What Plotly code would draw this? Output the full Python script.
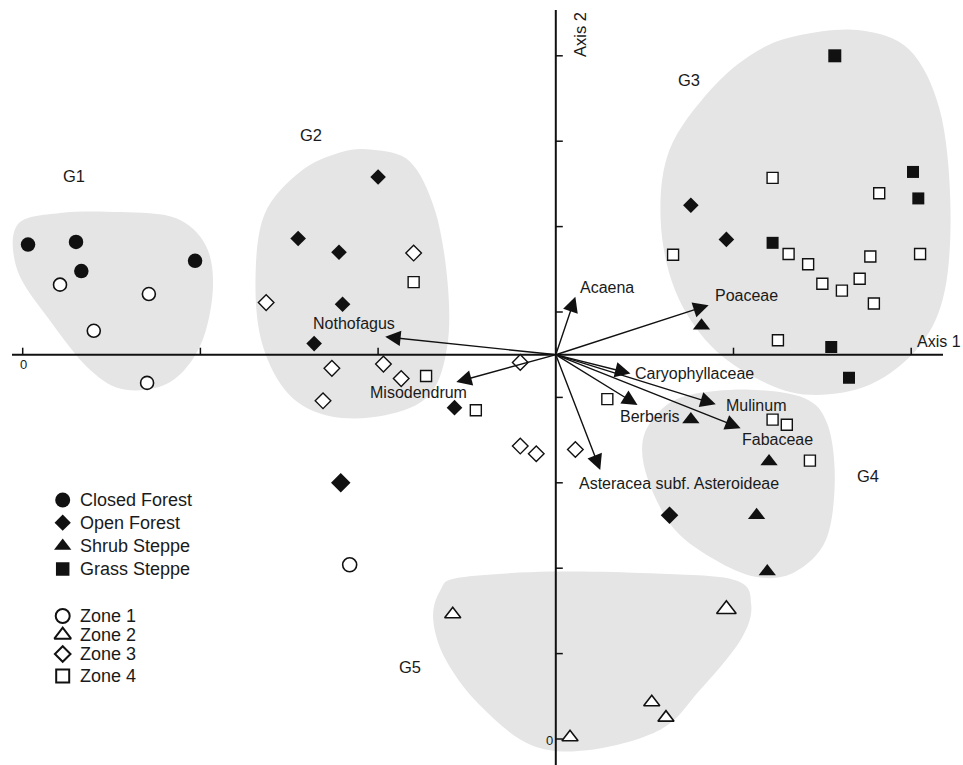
import plotly.graph_objects as go

# ---------------- data (ordination scores, axis units) ----------------
closed_forest_x = [0.03, 0.30, 0.33, 0.97]
closed_forest_y = [5.79, 5.82, 5.48, 5.60]

open_forest_x = [2.00, 1.55, 1.78, 1.80, 1.64, 2.43, 1.79, 3.76, 3.96, 3.64]
open_forest_y = [6.58, 5.86, 5.70, 5.09, 4.63, 3.88, 3.00, 6.25, 5.85, 2.62]

shrub_steppe_x = [3.82, 3.76, 4.20, 4.13, 4.19]
shrub_steppe_y = [4.84, 3.74, 3.25, 2.62, 1.96]

grass_steppe_x = [4.57, 5.01, 5.04, 4.22, 4.55, 4.65]
grass_steppe_y = [8.00, 6.64, 6.33, 5.81, 4.59, 4.23]

zone1_x = [0.21, 0.71, 0.40, 0.70, 1.84]
zone1_y = [5.32, 5.21, 4.78, 4.17, 2.04]

zone2_x = [2.42, 3.96, 3.54, 3.62, 3.08]
zone2_y = [1.46, 1.52, 0.43, 0.25, 0.02]

zone3_x = [2.20, 1.37, 2.03, 1.74, 2.13, 1.69, 2.80, 2.80, 2.89, 3.11]
zone3_y = [5.69, 5.11, 4.39, 4.34, 4.22, 3.96, 4.41, 3.43, 3.34, 3.39]

zone4_x = [2.20, 2.27, 2.55, 3.29, 4.22, 4.30, 4.43, 4.22, 4.82, 3.66,
           4.31, 4.42, 4.77, 5.05, 4.50, 4.61, 4.71, 4.79, 4.25]
zone4_y = [5.35, 4.25, 3.85, 3.98, 3.74, 3.68, 3.26, 6.57, 6.39, 5.67,
           5.68, 5.56, 5.65, 5.68, 5.33, 5.25, 5.39, 5.10, 4.67]

# taxon vectors (arrow tips), origin at the axes crossing
origin = (3.0, 4.5)
var_names = ["Acaena", "Poaceae", "Nothofagus", "Misodendrum", "Caryophyllaceae",
             "Berberis", "Mulinum", "Fabaceae", "Asteracea subf. Asteroideae"]
var_x = [3.11, 3.86, 2.04, 2.44, 3.42, 3.46, 3.90, 4.04, 3.25]
var_y = [5.18, 5.08, 4.71, 4.18, 4.28, 3.91, 3.92, 3.64, 3.15]

# group outlines (axis units)
groups = {
    "G1": [(-0.03, 6.02), (0.21, 6.16), (0.55, 6.17), (0.86, 6.10), (1.03, 5.78), (1.07, 5.26),
           (1.00, 4.61), (0.83, 4.18), (0.58, 4.09), (0.38, 4.32), (0.15, 4.91), (-0.03, 5.49)],
    "G2": [(1.97, 6.90), (2.18, 6.76), (2.32, 6.19), (2.39, 5.37), (2.39, 4.61), (2.29, 4.03),
           (2.04, 3.79), (1.73, 3.78), (1.50, 4.03), (1.35, 4.61), (1.31, 5.37), (1.36, 6.14),
           (1.56, 6.64), (1.79, 6.87)],
    "G3": [(4.37, 8.24), (4.71, 8.30), (4.99, 8.07), (5.16, 7.37), (5.22, 6.31), (5.19, 5.26),
           (5.05, 4.61), (4.77, 4.15), (4.43, 4.03), (4.15, 4.20), (3.87, 4.61), (3.67, 5.26),
           (3.59, 6.08), (3.64, 6.90), (3.87, 7.60), (4.12, 8.04)],
    "G4": [(3.76, 4.03), (4.09, 4.09), (4.40, 3.99), (4.53, 3.68), (4.57, 3.03), (4.52, 2.33),
           (4.35, 1.96), (4.15, 1.89), (3.92, 2.07), (3.67, 2.45), (3.52, 3.03), (3.49, 3.50),
           (3.59, 3.85)],
    "G5": [(2.46, 1.89), (2.97, 1.96), (3.53, 1.94), (4.01, 1.86), (4.10, 1.57), (4.04, 1.16),
           (3.81, 0.57), (3.59, 0.11), (3.19, -0.13), (2.86, -0.07), (2.57, 0.40), (2.38, 0.93),
           (2.31, 1.40), (2.35, 1.74)],
}

x_ticks = [0, 1, 2, 3, 4, 5]
y_ticks = [0, 1, 2, 3, 4, 5, 6, 7, 8]

# ---------------- layout helpers ----------------
W, H = 963, 765
X0PX, XUNIT = 22.7, 177.7
Y0PX, YUNIT = 739.0, 85.4


def dx(p):
    return (p - X0PX) / XUNIT


def dy(p):
    return (Y0PX - p) / YUNIT


XR = [dx(0), dx(W)]
YR = [dy(H), dy(0)]

FONT = "Liberation Sans, Arial, sans-serif"
BLACK = "#111111"
TXT = "#1a1a1a"
HULL = "#e5e5e5"


def smooth_path(pts):
    n = len(pts)
    s = f"M {pts[0][0]},{pts[0][1]}"
    for i in range(n):
        p0 = pts[(i - 1) % n]
        p1 = pts[i]
        p2 = pts[(i + 1) % n]
        p3 = pts[(i + 2) % n]
        c1 = (p1[0] + (p2[0] - p0[0]) / 6, p1[1] + (p2[1] - p0[1]) / 6)
        c2 = (p2[0] - (p3[0] - p1[0]) / 6, p2[1] - (p3[1] - p1[1]) / 6)
        s += f" C {c1[0]:.4f},{c1[1]:.4f} {c2[0]:.4f},{c2[1]:.4f} {p2[0]},{p2[1]}"
    return s + " Z"


fig = go.Figure()

shapes = []
for name, pts in groups.items():
    shapes.append(dict(type="path", path=smooth_path(pts), xref="x", yref="y",
                       fillcolor=HULL, line=dict(width=0), layer="below"))

# axes
shapes.append(dict(type="line", xref="x", yref="y", x0=dx(12), x1=dx(943), y0=origin[1], y1=origin[1],
                   line=dict(color=BLACK, width=2), layer="below"))
shapes.append(dict(type="line", xref="x", yref="y", x0=origin[0], x1=origin[0], y0=dy(770), y1=dy(10),
                   line=dict(color=BLACK, width=2), layer="below"))
for t in x_ticks:
    shapes.append(dict(type="line", xref="x", yref="y", x0=t, x1=t, y0=origin[1], y1=origin[1] + 7 / YUNIT,
                       line=dict(color=BLACK, width=1.5), layer="below"))
for t in y_ticks:
    shapes.append(dict(type="line", xref="x", yref="y", x0=origin[0], x1=origin[0] + 7 / XUNIT, y0=t, y1=t,
                       line=dict(color=BLACK, width=1.5), layer="below"))


def filled(x, y, symbol, size):
    fig.add_trace(go.Scatter(x=x, y=y, mode="markers", hoverinfo="skip", showlegend=False,
                             marker=dict(symbol=symbol, size=size, color=BLACK, opacity=1,
                                         line=dict(width=0))))


def hollow(x, y, symbol, size, lw=1.6):
    fig.add_trace(go.Scatter(x=x, y=y, mode="markers", hoverinfo="skip", showlegend=False,
                             marker=dict(symbol=symbol, size=size, color="white", opacity=1,
                                         line=dict(width=lw, color=BLACK))))


hollow(zone1_x, zone1_y, "circle", [13, 13, 13, 13, 14])
hollow(zone2_x, zone2_y, "triangle-up", [14, 17, 14, 14, 14])
hollow(zone3_x, zone3_y, "diamond", 12, 1.4)
hollow(zone4_x, zone4_y, "square", 11, 1.4)
filled(closed_forest_x, closed_forest_y, "circle", 14.5)
filled(open_forest_x, open_forest_y, "diamond", [12, 12, 12, 12, 12, 12, 15, 12, 12, 13.5])
filled(shrub_steppe_x, shrub_steppe_y, "triangle-up", 15)
filled(grass_steppe_x, grass_steppe_y, "square", [13, 12, 12, 12, 12, 12])

annotations = []
# vectors
for nm, vx, vy in zip(var_names, var_x, var_y):
    annotations.append(dict(x=vx, y=vy, ax=origin[0], ay=origin[1], xref="x", yref="y",
                            axref="x", ayref="y", text="", showarrow=True, arrowhead=2,
                            arrowsize=2.2, arrowwidth=1.4, arrowcolor=BLACK, standoff=0))

# vector labels (pixel anchor, xanchor)
label_pos = {
    "Acaena": (578, 287, "left"),
    "Poaceae": (713, 295, "left"),
    "Nothofagus": (354, 323, "center"),
    "Misodendrum": (418, 392, "center"),
    "Caryophyllaceae": (633, 373, "left"),
    "Berberis": (618, 416, "left"),
    "Mulinum": (724, 405, "left"),
    "Fabaceae": (740, 439, "left"),
    "Asteracea subf. Asteroideae": (577, 483, "left"),
}
for nm in var_names:
    px_, py_, anc = label_pos[nm]
    annotations.append(dict(x=dx(px_), y=dy(py_), xref="x", yref="y", text=nm, showarrow=False,
                            xanchor=anc, yanchor="middle", font=dict(family=FONT, size=16, color=TXT)))

# group labels
group_lab = {"G1": (74, 176), "G2": (311, 135), "G3": (689, 80), "G4": (868, 476), "G5": (410, 667)}
for g, (px_, py_) in group_lab.items():
    annotations.append(dict(x=dx(px_), y=dy(py_), xref="x", yref="y", text=g, showarrow=False,
                            xanchor="center", yanchor="middle", font=dict(family=FONT, size=16.5, color=TXT)))

# axis titles and zero labels
annotations.append(dict(x=dx(962), y=dy(341), xref="x", yref="y", text="Axis 1", showarrow=False,
                        xanchor="right", yanchor="middle", borderpad=0,
                        font=dict(family=FONT, size=16, color=TXT)))
annotations.append(dict(x=dx(580), y=dy(35), xref="x", yref="y", text="Axis 2", showarrow=False,
                        textangle=-90, xanchor="center", yanchor="middle",
                        font=dict(family=FONT, size=16.5, color=TXT)))
annotations.append(dict(x=dx(23), y=dy(364), xref="x", yref="y", text="0", showarrow=False,
                        xanchor="center", yanchor="middle", font=dict(family=FONT, size=13, color=TXT)))
annotations.append(dict(x=dx(549), y=dy(740), xref="x", yref="y", text="0", showarrow=False,
                        xanchor="center", yanchor="middle", font=dict(family=FONT, size=13, color=TXT)))

# legend (drawn manually)
legend_items = [
    ("Closed Forest", "circle", 15, True, 500),
    ("Open Forest", "diamond", 12.5, True, 522.7),
    ("Shrub Steppe", "triangle-up", 15, True, 546),
    ("Grass Steppe", "square", 13.5, True, 569),
    ("Zone 1", "circle", 14, False, 616),
    ("Zone 2", "triangle-up", 14.5, False, 635),
    ("Zone 3", "diamond", 12, False, 654),
    ("Zone 4", "square", 13, False, 676),
]
for label, sym, sz, fill, py_ in legend_items:
    fig.add_trace(go.Scatter(x=[dx(62.7)], y=[dy(py_)], mode="markers", hoverinfo="skip", showlegend=False,
                             marker=dict(symbol=sym, size=sz, color=BLACK if fill else "white", opacity=1,
                                         line=dict(width=0 if fill else 2, color=BLACK))))
    annotations.append(dict(x=dx(78), y=dy(py_), xref="x", yref="y", text=label, showarrow=False,
                            xanchor="left", yanchor="middle", font=dict(family=FONT, size=18, color=TXT)))

fig.update_layout(
    width=W, height=H, margin=dict(l=0, r=0, t=0, b=0),
    paper_bgcolor="white", plot_bgcolor="white",
    xaxis=dict(range=XR, visible=False, fixedrange=True),
    yaxis=dict(range=YR, visible=False, fixedrange=True),
    shapes=shapes, annotations=annotations, showlegend=False,
)

fig.write_html(
    "out.html",
    config={"displayModeBar": False},
    post_script="document.body.style.margin='0';document.body.style.overflow='hidden';",
)
